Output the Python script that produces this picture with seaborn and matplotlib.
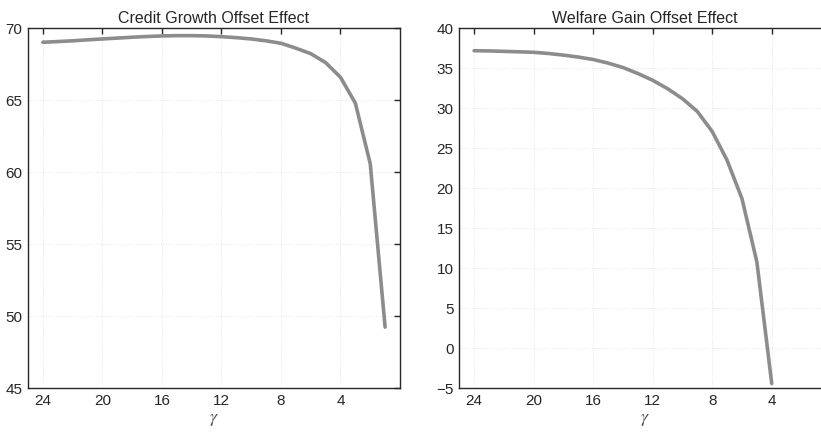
import numpy as np
import pandas as pd
import matplotlib
matplotlib.use('Agg')
import matplotlib.pyplot as plt
import seaborn as sns

# 数据 (gamma 从 24 到 1)
gamma_credit = [24, 23, 22, 21, 20, 19, 18, 17, 16, 15, 14, 13, 12, 11, 10, 9, 8, 7, 6, 5, 4, 3, 2, 1]
credit_offset = [69.03, 69.08, 69.13, 69.20, 69.26, 69.32, 69.38, 69.43, 69.47, 69.49, 69.49, 69.47,
                 69.42, 69.35, 69.26, 69.13, 68.96, 68.62, 68.24, 67.62, 66.60, 64.80, 60.60, 49.25]

gamma_welfare = [24, 23, 22, 21, 20, 19, 18, 17, 16, 15, 14, 13, 12, 11, 10, 9, 8, 7, 6, 5, 4]
welfare_offset = [37.2, 37.17, 37.12, 37.06, 37.0, 36.85, 36.65, 36.4, 36.1, 35.65, 35.1, 34.35,
                  33.5, 32.45, 31.2, 29.6, 27.1, 23.5, 18.7, 10.8, -4.4]

xticks = [24, 20, 16, 12, 8, 4]

sns.set_theme(style='white')
plt.rcParams['font.family'] = ['Liberation Sans', 'DejaVu Sans']
plt.rcParams['mathtext.fontset'] = 'stix'

df_c = pd.DataFrame({'gamma': gamma_credit, 'value': credit_offset})
df_w = pd.DataFrame({'gamma': gamma_welfare, 'value': welfare_offset})

fig = plt.figure(figsize=(8.21, 4.34), dpi=100)
ax1 = fig.add_axes([0.0341, 0.1053, 0.4531, 0.8295])
ax2 = fig.add_axes([0.5594, 0.1053, 0.4531, 0.8295])

line_color = '#8c8c8c'
panels = [
    (ax1, df_c, 'Credit Growth Offset Effect', (45, 70), np.arange(45, 71, 5)),
    (ax2, df_w, 'Welfare Gain Offset Effect', (-5, 40), np.arange(-5, 41, 5)),
]

for ax, d, title, ylim, yticks in panels:
    sns.lineplot(data=d, x='gamma', y='value', ax=ax, color=line_color, linewidth=2.6, sort=False)
    ax.set_xlim(25, 0)
    ax.set_ylim(*ylim)
    ax.set_xticks(xticks)
    ax.set_yticks(yticks)
    ax.set_yticklabels([str(v).replace('-', '\u2212') for v in yticks])
    ax.grid(True, linestyle=(0, (1, 2)), color='#dcdcdc', linewidth=0.6)
    ax.tick_params(direction='in', length=4, width=1, color='#262626',
                   labelsize=11, top=True, right=True, labelcolor='#262626', pad=4)
    for sp in ax.spines.values():
        sp.set_visible(True)
        sp.set_color('#262626')
        sp.set_linewidth(1)
    ax.set_title(title, fontsize=11.5, color='#262626', pad=4)
    ax.set_xlabel(r'$\gamma$', fontsize=13, color='#555555', labelpad=2)
    ax.set_ylabel('')

plt.savefig('out.png', dpi=100)
